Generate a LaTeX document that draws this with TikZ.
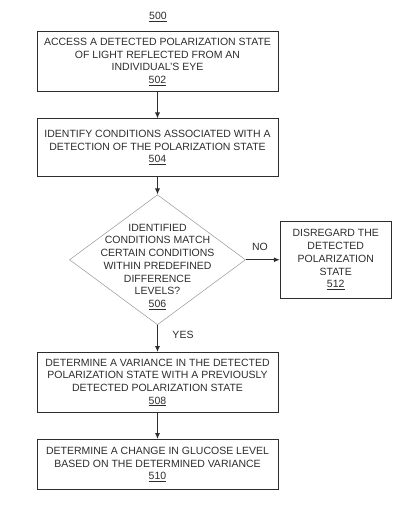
\documentclass[tikz,border=0pt]{standalone}
\usepackage{fontspec}
\setmainfont{Liberation Sans}
\usetikzlibrary{arrows.meta,positioning,shapes.geometric}
\definecolor{ink}{RGB}{45,45,45}
\definecolor{rim}{RGB}{150,150,150}
\tikzset{
  stepbox/.style={draw=ink,line width=1pt,text=ink,align=center,inner sep=3pt,
    minimum width=241pt,font=\fontsize{10.5}{12.7}\selectfont},
  decision/.style={draw=rim,line width=0.5pt,diamond,minimum width=176pt,
    minimum height=130pt,inner sep=0pt},
  tag/.style={text=ink,align=center,inner sep=1pt,font=\fontsize{10.5}{12.7}\selectfont},
  flow/.style={draw=ink,line width=0.9pt,-{Latex[length=6pt,width=5pt]}}
}
\begin{document}
\begin{tikzpicture}
  \useasboundingbox (0,0) rectangle (405pt,-513pt);
  \node[tag] (n500) at (158pt,-17pt) {\underline{500}};
  % main chain
  \node[stepbox,minimum height=60pt] (b502) at (157.5pt,-62pt)
    {ACCESS A DETECTED POLARIZATION STATE\\OF LIGHT REFLECTED FROM AN\\INDIVIDUAL'S EYE\\\underline{502}};
  \node[stepbox,minimum height=57pt,below=26pt of b502] (b504)
    {IDENTIFY CONDITIONS ASSOCIATED WITH A\\DETECTION OF THE POLARIZATION STATE\\\underline{504}};
  \node[decision,below=18pt of b504] (d506) {};
  \node[tag] (t506) at ([yshift=-7pt]d506.center)
    {IDENTIFIED\\CONDITIONS MATCH\\CERTAIN CONDITIONS\\WITHIN PREDEFINED\\DIFFERENCE\\LEVELS?\\\underline{506}};
  \node[stepbox,minimum height=60pt,below=27pt of d506] (b508)
    {DETERMINE A VARIANCE IN THE DETECTED\\POLARIZATION STATE WITH A PREVIOUSLY\\DETECTED POLARIZATION STATE\\\underline{508}};
  \node[stepbox,minimum height=50pt,below=26pt of b508] (b510)
    {DETERMINE A CHANGE IN GLUCOSE LEVEL\\BASED ON THE DETERMINED VARIANCE\\\underline{510}};
  % side branch
  \node[stepbox,minimum width=111pt,minimum height=77pt,right=34pt of d506] (b512)
    {DISREGARD THE\\DETECTED\\POLARIZATION\\STATE\\\underline{512}};
  % connectors
  \draw[flow] (b502) -- (b504);
  \draw[flow] (b504) -- (d506);
  \draw[flow] (d506) -- (b508);
  \draw[flow] (b508) -- (b510);
  \draw[flow] (d506) -- (b512);
  \node[tag] (no) at (260pt,-247pt) {NO};
  \node[tag] (yes) at (183pt,-335pt) {YES};
\end{tikzpicture}
\end{document}
